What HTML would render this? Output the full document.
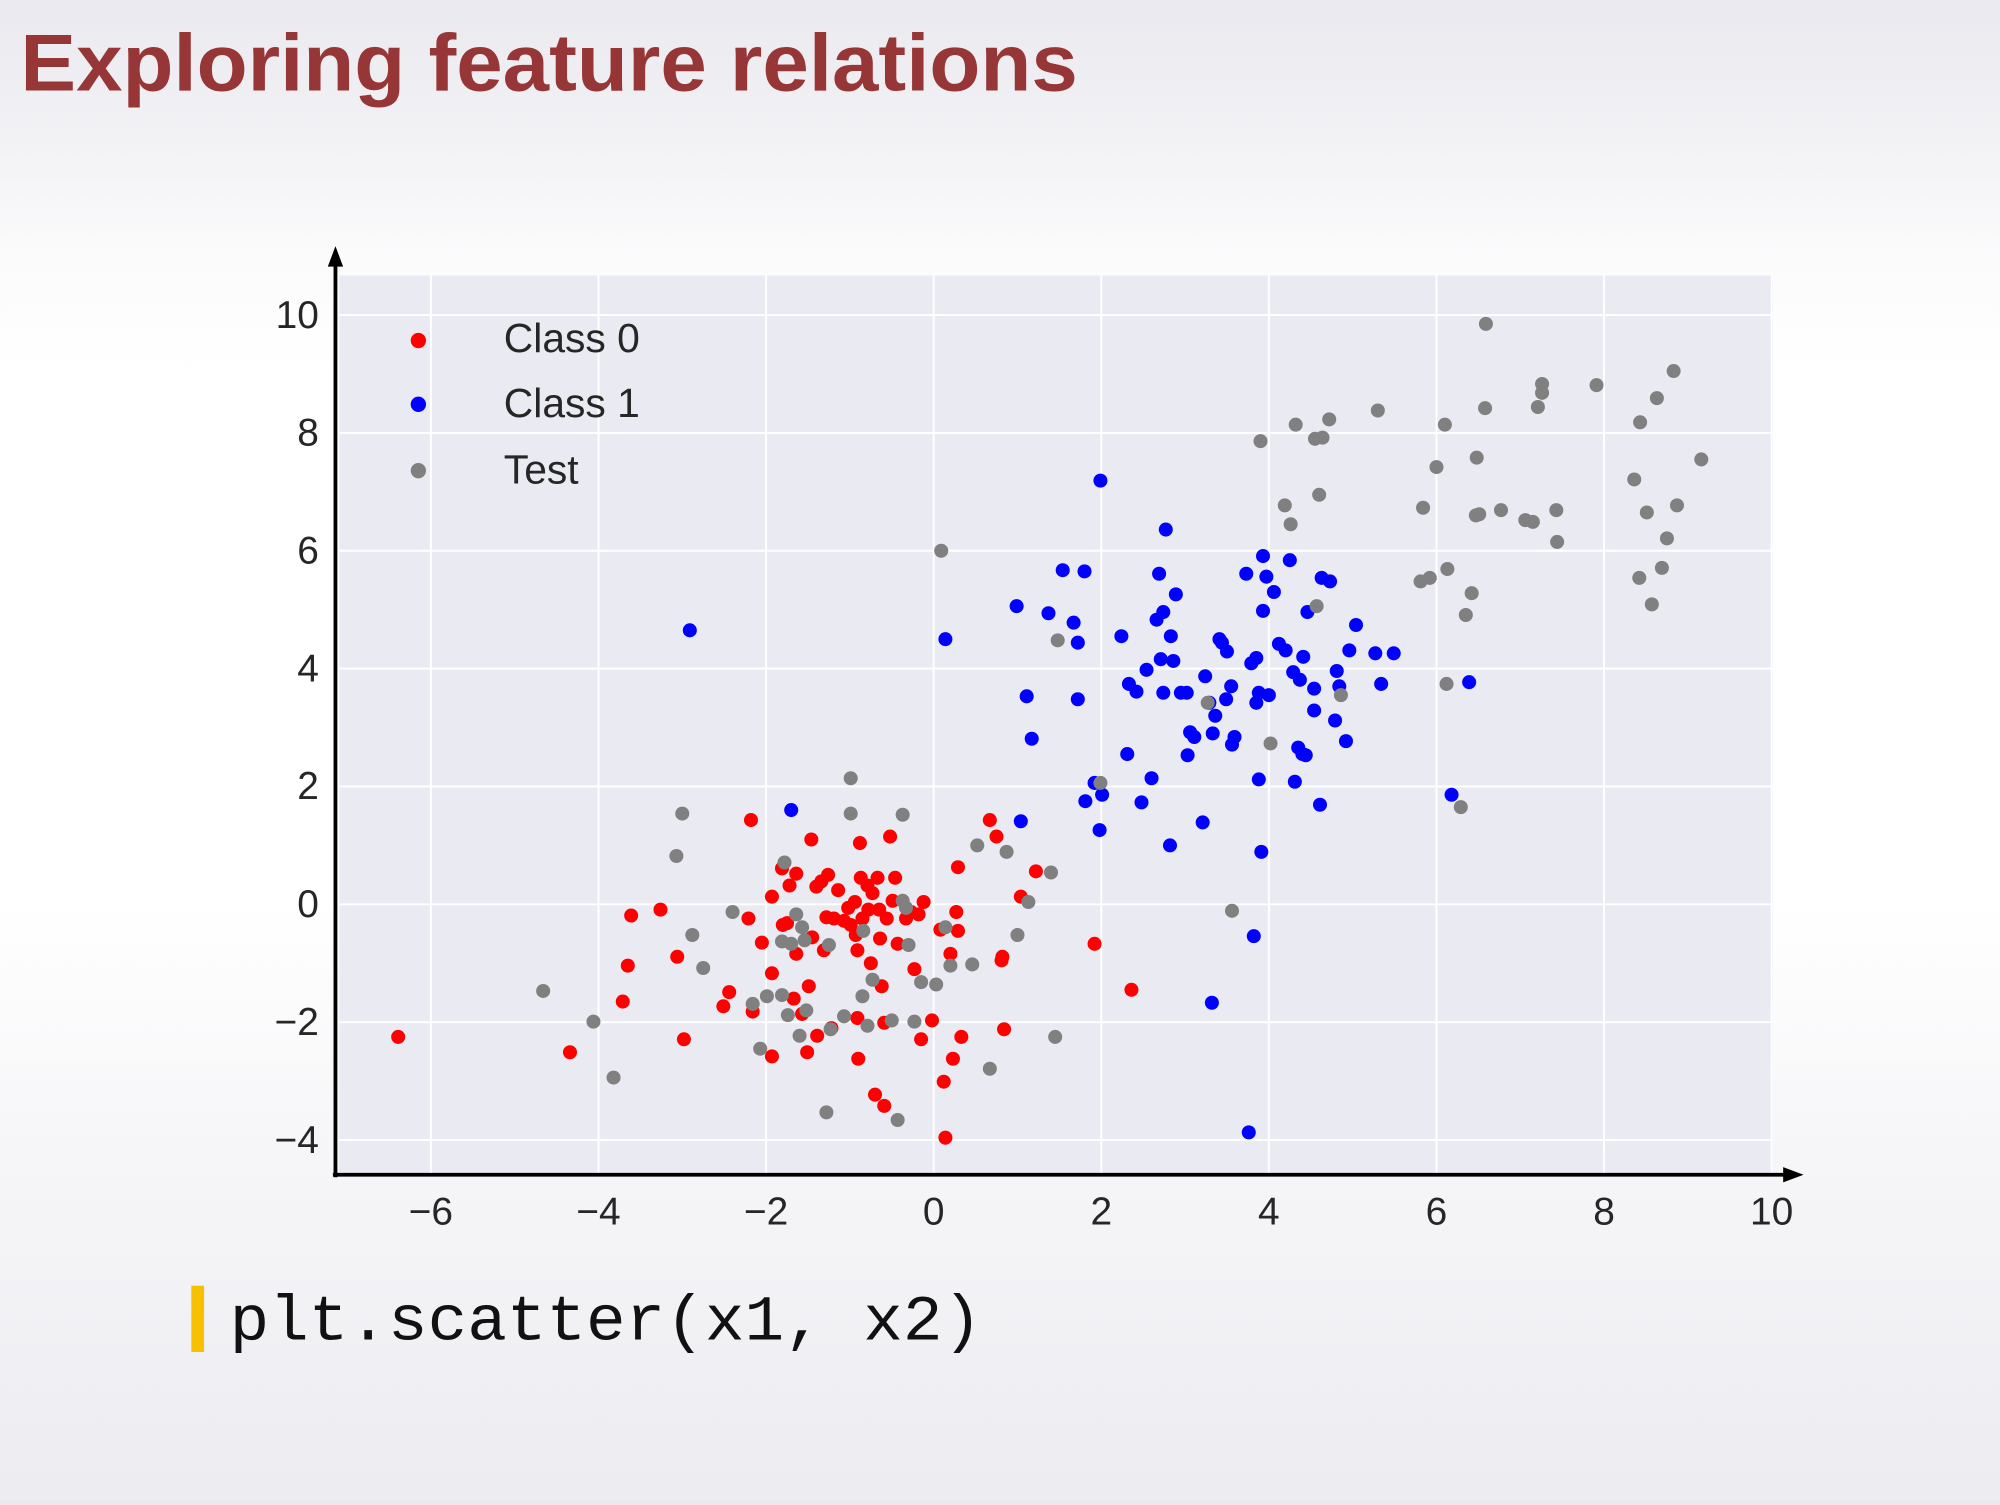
<!DOCTYPE html>
<html><head><meta charset="utf-8"><style>
html,body{margin:0;padding:0;}
body{width:2000px;height:1500px;overflow:hidden;background:linear-gradient(to bottom,#e9e9ef 0%,#f3f3f6 10%,#fbfbfc 17%,#ffffff 25%,#ffffff 60%,#f7f7f9 75%,#ececf1 100%);}
</style></head><body>
<svg id="chart" width="2000" height="1500" viewBox="0 0 1568 1176" xmlns="http://www.w3.org/2000/svg" font-family="'Liberation Sans', sans-serif">
<text x="16" y="71" font-size="63" font-weight="bold" fill="#973636" textLength="829" lengthAdjust="spacingAndGlyphs">Exploring feature relations</text>
<rect x="266" y="216" width="1124" height="706" fill="#eaeaf2"/>
<g id="grid"></g>
<g id="pts"></g>
<g id="ticks" font-size="30.5" fill="#262626"></g>
<line x1="263" y1="923" x2="263" y2="205" stroke="#000" stroke-width="3"/>
<polygon points="263,193 257,209 269,209" fill="#000"/>
<line x1="261" y1="921" x2="1402" y2="921" stroke="#000" stroke-width="3"/>
<polygon points="1414,921 1398,915 1398,927" fill="#000"/>
<g font-size="32" fill="#262626">
<circle cx="328" cy="267" r="6" fill="#ff0000"/>
<text x="395" y="276">Class 0</text>
<circle cx="328" cy="317" r="6" fill="#0000ff"/>
<text x="395" y="327">Class 1</text>
<circle cx="328" cy="369" r="6" fill="#808080"/>
<text x="395" y="379">Test</text>
</g>
<rect x="150" y="1008" width="10" height="52" fill="#f7c100"/>
<text x="180" y="1050" font-family="'Liberation Mono', monospace" font-size="50" fill="#111" textLength="590" lengthAdjust="spacingAndGlyphs">plt.scatter(x1, x2)</text>
</svg>
<script>
const xTicks=[-6,-4,-2,0,2,4,6,8,10];
const yTicks=[-4,-2,0,2,4,6,8,10];
const c0x=[-6.39,-4.34,-3.71,-3.65,-3.61,-3.26,-3.06,-2.98,-2.51,-2.44,-2.21,-2.18,-2.16,-2.05,-1.93,-1.93,-1.93,-1.81,-1.80,-1.75,-1.72,-1.67,-1.64,-1.64,-1.57,-1.51,-1.49,-1.46,-1.45,-1.40,-1.39,-1.34,-1.31,-1.28,-1.26,-1.22,-1.19,-1.14,-1.07,-1.02,-0.99,-0.94,-0.93,-0.91,-0.91,-0.90,-0.88,-0.87,-0.85,-0.79,-0.78,-0.75,-0.73,-0.70,-0.67,-0.65,-0.64,-0.62,-0.59,-0.59,-0.56,-0.52,-0.49,-0.46,-0.43,-0.33,-0.27,-0.23,-0.18,-0.15,-0.12,-0.02,0.08,0.12,0.14,0.20,0.23,0.27,0.29,0.29,0.33,0.67,0.75,0.81,0.82,0.84,1.04,1.22,1.92,2.36];
const c0y=[-2.25,-2.51,-1.65,-1.04,-0.19,-0.09,-0.89,-2.29,-1.73,-1.49,-0.24,1.43,-1.82,-0.65,0.13,-1.17,-2.58,0.61,-0.35,-0.32,0.32,-1.60,-0.84,0.52,-1.86,-2.51,-1.39,1.10,-0.56,0.30,-2.23,0.39,-0.78,-0.22,0.50,-2.10,-0.24,0.24,-0.28,-0.06,-0.35,0.04,-0.52,-1.93,-0.78,-2.62,1.04,0.45,-0.24,0.32,-0.09,-1.00,0.19,-3.23,0.45,-0.09,-0.58,-1.39,-3.42,-2.01,-0.24,1.15,0.06,0.45,-0.67,-0.24,-0.13,-1.10,-0.17,-2.29,0.04,-1.97,-0.43,-3.01,-3.96,-0.84,-2.62,-0.13,0.63,-0.45,-2.25,1.43,1.15,-0.95,-0.89,-2.12,0.13,0.56,-0.67,-1.45];
const c1x=[-2.91,-1.70,0.14,0.99,1.04,1.11,1.17,1.37,1.54,1.67,1.72,1.72,1.80,1.81,1.92,1.98,1.99,2.01,2.24,2.31,2.33,2.42,2.48,2.54,2.60,2.66,2.69,2.71,2.74,2.74,2.77,2.82,2.83,2.86,2.89,2.95,3.02,3.03,3.06,3.11,3.21,3.24,3.29,3.32,3.33,3.36,3.41,3.44,3.49,3.50,3.55,3.56,3.59,3.73,3.76,3.79,3.82,3.85,3.85,3.88,3.88,3.91,3.93,3.93,3.97,4.00,4.06,4.12,4.20,4.25,4.29,4.31,4.35,4.37,4.40,4.41,4.44,4.46,4.54,4.54,4.61,4.63,4.73,4.79,4.81,4.84,4.92,4.96,5.04,5.27,5.34,5.49,6.18,6.39];
const c1y=[4.65,1.60,4.50,5.06,1.41,3.53,2.81,4.94,5.67,4.78,4.44,3.48,5.65,1.75,2.06,1.26,7.19,1.86,4.55,2.55,3.74,3.61,1.73,3.98,2.14,4.83,5.61,4.16,4.96,3.59,6.36,1.00,4.55,4.13,5.26,3.59,3.59,2.53,2.92,2.84,1.39,3.87,3.42,-1.67,2.90,3.20,4.50,4.44,3.48,4.29,3.70,2.71,2.84,5.61,-3.87,4.09,-0.54,4.18,3.42,3.59,2.12,0.89,5.91,4.98,5.56,3.55,5.30,4.42,4.31,5.84,3.94,2.08,2.66,3.81,2.55,4.20,2.53,4.96,3.66,3.29,1.69,5.54,5.48,3.12,3.96,3.70,2.77,4.31,4.74,4.26,3.74,4.26,1.86,3.77];
const tx=[-4.66,-4.06,-3.82,-3.07,-3.00,-2.88,-2.75,-2.40,-2.16,-2.07,-1.99,-1.81,-1.81,-1.78,-1.74,-1.70,-1.64,-1.60,-1.57,-1.54,-1.52,-1.28,-1.25,-1.23,-1.07,-0.99,-0.99,-0.85,-0.84,-0.79,-0.73,-0.50,-0.43,-0.37,-0.37,-0.33,-0.30,-0.23,-0.15,0.03,0.09,0.14,0.20,0.46,0.52,0.67,0.87,1.00,1.13,1.40,1.45,1.48,1.99,3.27,3.56,3.90,4.02,4.19,4.26,4.32,4.55,4.60,4.64,4.57,4.72,4.86,5.30,5.81,5.84,5.92,6.00,6.10,6.12,6.13,6.29,6.35,6.42,6.47,6.48,6.51,6.59,6.58,6.77,7.06,7.15,7.21,7.26,7.26,7.43,7.44,7.91,8.36,8.42,8.43,8.51,8.57,8.63,8.69,8.75,8.83,8.87,9.16];
const ty=[-1.47,-1.99,-2.94,0.82,1.54,-0.52,-1.08,-0.13,-1.69,-2.45,-1.56,-1.54,-0.63,0.71,-1.88,-0.67,-0.17,-2.23,-0.39,-0.61,-1.80,-3.53,-0.69,-2.12,-1.90,2.14,1.54,-1.56,-0.45,-2.06,-1.28,-1.97,-3.66,1.52,0.06,-0.06,-0.69,-1.99,-1.32,-1.36,6.00,-0.39,-1.04,-1.02,1.00,-2.79,0.89,-0.52,0.04,0.54,-2.25,4.48,2.06,3.42,-0.11,7.86,2.73,6.77,6.45,8.14,7.90,6.95,7.92,5.06,8.23,3.55,8.38,5.48,6.73,5.54,7.42,8.14,3.74,5.69,1.65,4.91,5.28,6.60,7.58,6.62,9.85,8.42,6.69,6.52,6.49,8.44,8.68,8.83,6.69,6.15,8.81,7.21,5.54,8.18,6.65,5.09,8.59,5.71,6.21,9.05,6.77,7.55];

const NS='http://www.w3.org/2000/svg';
function sx(v){return 732+v*65.7;}
function sy(v){return 709-v*46.2;}
const grid=document.getElementById('grid');
const ticks=document.getElementById('ticks');
xTicks.forEach(function(t){
  const l=document.createElementNS(NS,'line');
  l.setAttribute('x1',sx(t));l.setAttribute('x2',sx(t));l.setAttribute('y1',216);l.setAttribute('y2',921);
  l.setAttribute('stroke','#fff');l.setAttribute('stroke-width','1.5');
  
  
  grid.appendChild(l);
  const tx2=document.createElementNS(NS,'text');
  tx2.setAttribute('x',sx(t));tx2.setAttribute('y',960);tx2.setAttribute('text-anchor','middle');
  tx2.textContent=(t<0?'\u2212'+(-t):String(t));
  
  
  ticks.appendChild(tx2);
});
yTicks.forEach(function(t){
  const l=document.createElementNS(NS,'line');
  l.setAttribute('x1',266);l.setAttribute('x2',1390);l.setAttribute('y1',sy(t));l.setAttribute('y2',sy(t));
  l.setAttribute('stroke','#fff');l.setAttribute('stroke-width','1.5');
  
  
  grid.appendChild(l);
  const ty2=document.createElementNS(NS,'text');
  ty2.setAttribute('x',250);ty2.setAttribute('y',sy(t)+10);ty2.setAttribute('text-anchor','end');
  ty2.textContent=(t<0?'\u2212'+(-t):String(t));
  
  
  ticks.appendChild(ty2);
});
const pts=document.getElementById('pts');
function draw(xs,ys,color,name){
  for(let i=0;i<xs.length;i++){
    const c=document.createElementNS(NS,'circle');
    c.setAttribute('cx',sx(xs[i]));c.setAttribute('cy',sy(ys[i]));c.setAttribute('r',5.5);c.setAttribute('fill',color);
    
    
    pts.appendChild(c);
  }
}
draw(c0x,c0y,'#ff0000','class-0-point');
draw(c1x,c1y,'#0000ff','class-1-point');
draw(tx,ty,'#808080','test-point');
</script>
</body></html>
